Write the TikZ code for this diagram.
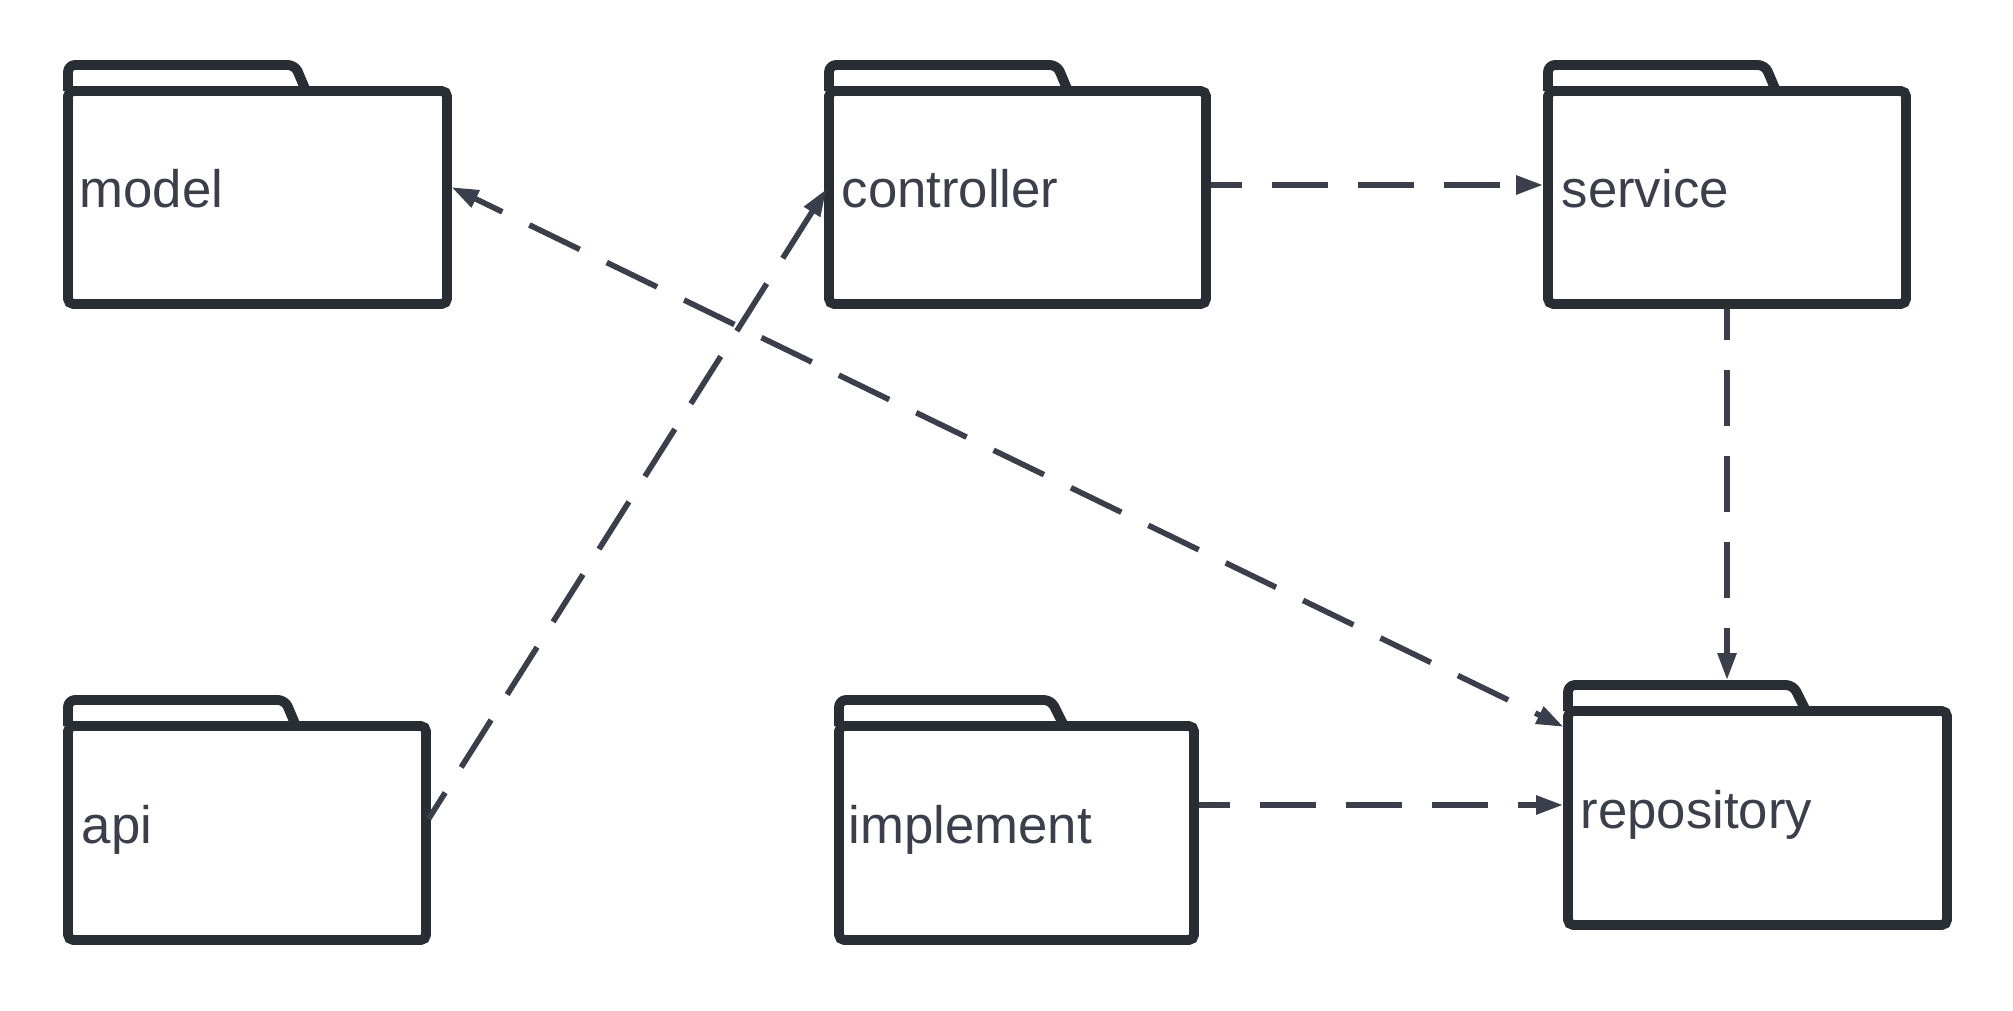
\documentclass[tikz,border=0pt]{standalone}
\usepackage{fontspec}
\setmainfont{Liberation Sans}
\usetikzlibrary{arrows.meta}
\definecolor{folderEdge}{RGB}{41,45,52}
\definecolor{lineGrey}{RGB}{58,63,75}

\begin{document}
\begin{tikzpicture}[
	folder/.style={rectangle, draw=folderEdge, fill=white, line width=2.8pt, rounded corners=1.5pt,
		inner sep=0pt, outer sep=0pt},
	tab/.style={draw=folderEdge, line width=2.8pt, rounded corners=2pt, line join=round},
	lbl/.style={anchor=base west, inner sep=0pt, text=lineGrey, font=\fontsize{15}{18}\selectfont},
	dep/.style={->, >={Triangle[length=0.27cm, width=0.18cm]}, draw=lineGrey, line width=1.6pt,
		dash pattern=on 0.56cm off 0.3cm, dash phase=0.25cm, shorten >=1.4pt, shorten <=1.4pt}
	]
	\useasboundingbox (0,0) rectangle (20.13,10.10);
	
	% folders
	\node[folder, minimum width=3.79cm, minimum height=2.13cm] (model)      at (2.575,8.125) {};
	\node[folder, minimum width=3.77cm, minimum height=2.13cm] (controller) at (10.175,8.125) {};
	\node[folder, minimum width=3.58cm, minimum height=2.13cm] (service)    at (17.27,8.125) {};
	\node[folder, minimum width=3.58cm, minimum height=2.14cm] (api)        at (2.47,1.77) {};
	\node[folder, minimum width=3.55cm, minimum height=2.14cm] (implement)  at (10.165,1.77) {};
	\node[folder, minimum width=3.79cm, minimum height=2.14cm] (repository) at (17.575,1.92) {};
	
	\draw[tab] (model.north west)      -- ++(0,0.26) -- ++(2.27,0) -- ++(0.11,-0.26);
	\draw[tab] (controller.north west) -- ++(0,0.26) -- ++(2.28,0) -- ++(0.11,-0.26);
	\draw[tab] (service.north west)    -- ++(0,0.26) -- ++(2.17,0) -- ++(0.11,-0.26);
	\draw[tab] (api.north west)        -- ++(0,0.26) -- ++(2.17,0) -- ++(0.11,-0.26);
	\draw[tab] (implement.north west)  -- ++(0,0.26) -- ++(2.12,0) -- ++(0.13,-0.26);
	\draw[tab] (repository.north west) -- ++(0,0.26) -- ++(2.25,0) -- ++(0.13,-0.26);
	\coordinate (repository-tab) at ([yshift=0.26cm]repository.north);
	
	% names
	\node[lbl] (model-t)      at ([xshift=0.11cm, yshift=-0.1cm]model.west) {model};
	\node[lbl] (controller-t) at ([xshift=0.12cm, yshift=-0.1cm]controller.west) {controller};
	\node[lbl] (service-t)    at ([xshift=0.13cm, yshift=-0.1cm]service.west) {service};
	\node[lbl] (api-t)        at ([xshift=0.13cm, yshift=-0.1cm]api.west) {api};
	\node[lbl] (implement-t)  at ([xshift=0.09cm, yshift=-0.1cm]implement.west) {implement};
	\node[lbl] (repository-t) at ([xshift=0.12cm, yshift=-0.1cm]repository.west) {repository};
	
	% dependencies
	\draw[dep] ([yshift=0.1cm]api.east) -- ([yshift=0.125cm]controller.west);
	\draw[dep] ([yshift=0.125cm]controller.east) -- ([yshift=0.125cm]service.west);
	\draw[dep, <->] ([yshift=0.125cm]model.east) -- ([yshift=0.89cm]repository.west);
	\draw[dep] (service.south) -- (service.south |- repository-tab);
	\draw[dep] ([yshift=0.28cm]implement.east) -- ([yshift=0.13cm]repository.west);
\end{tikzpicture}
\end{document}
